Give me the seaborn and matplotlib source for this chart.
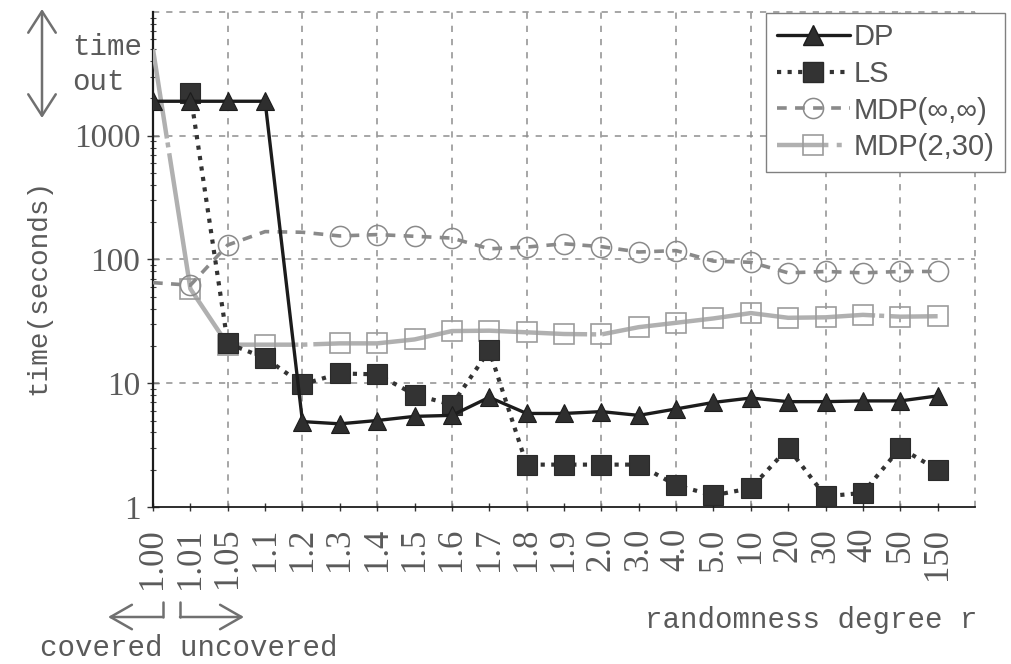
import numpy as np
import matplotlib
matplotlib.use("Agg")
import matplotlib.pyplot as plt
from matplotlib.lines import Line2D
from matplotlib.font_manager import FontProperties
import seaborn as sns

# randomness degree r (categorical x axis)
r_labels = ["1.00", "1.01", "1.05", "1.1", "1.2", "1.3", "1.4", "1.5", "1.6", "1.7",
            "1.8", "1.9", "2.0", "3.0", "4.0", "5.0", "10", "20", "30", "40", "50", "150"]

# running time in seconds (values near 2000+ are time-outs)
dp_time = [1900, 1900, 1900, 1900, 4.9, 4.7, 5.0, 5.4, 5.5, 7.7, 5.7,
           5.7, 5.9, 5.5, 6.2, 7.0, 7.6, 7.1, 7.1, 7.2, 7.2, 7.9]
ls_time = [np.nan, 2200, 21, 16, 9.8, 12, 11.8, 8.1, 6.7, 18.5, 2.2,
           2.2, 2.2, 2.2, 1.5, 1.24, 1.42, 3.0, 1.22, 1.3, 3.0, 2.0]
mdp_inf_time = [65, 62, 131, 168, 166, 155, 159, 154, 149, 122, 126,
                134, 127, 115, 118, 97, 95, 78, 80, 78, 80, 80]
mdp_2_30_time = [5000, 58, 20.5, 20.5, 20.5, 21, 21, 22.6, 26.4, 26.6, 25.8,
                 25, 24.8, 28.4, 30.8, 33.4, 36.9, 33.8, 34.1, 35.7, 34.5, 34.8]

series_names = ["DP", "LS", "MDP(\u221e,\u221e)", "MDP(2,30)"]
y_ticks = [1, 10, 100, 1000]
y_ticklabels = ["1", "10", "100", "1000"]

sns.set_style("white")
plt.rcParams["lines.scale_dashes"] = False

W, H = 1012, 664
TEXT = "#5a5a5a"
GRID = "#8e8e8e"
MONO = "Liberation Mono"
SERIF = "Liberation Serif"

fig = plt.figure(figsize=(W / 100, H / 100), dpi=100)
ax = fig.add_axes([153 / W, 1 - 507 / H, (975 - 153) / W, (507 - 12) / H])

x = np.arange(len(r_labels))

# dashed grid: every second category and each decade
for gx in range(2, 23, 2):
    ax.axvline(gx, color=GRID, lw=1.1, ls=(0, (4.5, 5)), zorder=1, clip_on=False)
for gy in [10, 100, 1000, 10000]:
    ax.axhline(gy, color=GRID, lw=1.1, ls=(0, (4.5, 5)), zorder=1, clip_on=False)

# MDP(2,30): light grey long-dash-dot line with open squares
sns.lineplot(x=x, y=mdp_2_30_time, ax=ax, color="#b0b0b0", linewidth=3.2,
             linestyle=(133, (198, 2.9, 3.6, 4.3)), marker="s", markersize=15,
             markerfacecolor="none", markeredgecolor="#9c9c9c", markeredgewidth=1.2,
             markevery=[1, 2, 3] + list(range(5, 22)), zorder=3, legend=False)

# MDP(inf,inf): grey dashed line with open circles
sns.lineplot(x=x, y=mdp_inf_time, ax=ax, color="#8a8a8a", linewidth=2.6,
             linestyle=(0, (7, 6)), marker="o", markersize=14.5,
             markerfacecolor="none", markeredgecolor="#8a8a8a", markeredgewidth=1.1,
             markevery=[1, 2] + list(range(5, 22)), zorder=4, legend=False)

# LS: dark dotted line with filled squares
sns.lineplot(x=x, y=ls_time, ax=ax, color="#333333", linewidth=3.0,
             linestyle=(0, (3.0, 4.6)), marker="s", markersize=14,
             markerfacecolor="#333333", markeredgecolor="#2a2a2a", markeredgewidth=0.8,
             zorder=5, legend=False)

# DP: black solid line with filled triangles
sns.lineplot(x=x, y=dp_time, ax=ax, color="#1c1c1c", linewidth=2.4,
             linestyle="-", marker="^", markersize=13,
             markerfacecolor="#2e2e2e", markeredgecolor="#1c1c1c", markeredgewidth=0.8,
             zorder=6, legend=False)

ax.set_yscale("log")
ax.set_xlim(0, 22)
ax.set_ylim(1, 10000)
ax.set_xlabel("")
ax.set_ylabel("")

ax.set_xticks(x)
ax.set_xticklabels(r_labels, rotation=90, fontfamily=SERIF, fontsize=25, color=TEXT)
ax.set_yticks(y_ticks)
ax.set_yticklabels(y_ticklabels, fontfamily=SERIF, fontsize=24, color=TEXT)
ax.yaxis.set_minor_locator(matplotlib.ticker.LogLocator(base=10, subs=np.arange(2, 10)))
ax.yaxis.set_minor_formatter(matplotlib.ticker.NullFormatter())
ax.tick_params(axis="x", which="major", direction="inout", length=6, width=1.0,
               color="#333333", pad=12, bottom=True)
ax.tick_params(axis="y", which="major", direction="inout", length=8, width=1.0,
               color="#333333", pad=5, left=True)
ax.tick_params(axis="y", which="minor", direction="inout", length=4, width=0.8,
               color="#444444", left=True)

for side in ["top", "right"]:
    ax.spines[side].set_visible(False)
ax.spines["left"].set_color("#1c1c1c")
ax.spines["left"].set_linewidth(1.6)
ax.spines["bottom"].set_color("#1c1c1c")
ax.spines["bottom"].set_linewidth(1.3)


def fp(px, py):
    """figure fraction from pixel position measured from the top-left corner"""
    return (px / W, 1 - py / H)


# axis titles
fig.text(*fp(38, 287), "time(seconds)", rotation=90, ha="center", va="center",
         family=MONO, fontsize=20, color=TEXT)
fig.text(*fp(978, 620), "randomness degree r", ha="right", va="center",
         family=MONO, fontsize=21, color=TEXT)
fig.text(*fp(40, 648), "covered uncovered", ha="left", va="center",
         family=MONO, fontsize=21, color=TEXT)

# time-out band marker
fig.text(*fp(72, 55), "time", ha="left", va="baseline", family=MONO, fontsize=21, color=TEXT)
fig.text(*fp(72, 90), "out", ha="left", va="baseline", family=MONO, fontsize=21, color=TEXT)
ax.annotate("", xy=fp(42, 9), xytext=fp(42, 118), xycoords="figure fraction",
            textcoords="figure fraction",
            arrowprops=dict(arrowstyle="<->,head_length=0.7,head_width=0.45",
                            color="#707070", lw=1.8, mutation_scale=22,
                            shrinkA=0, shrinkB=0))

# covered / uncovered brackets under the first tick labels
arrow_kw = dict(arrowstyle="->,head_length=0.7,head_width=0.4", color="#707070",
                lw=1.8, mutation_scale=22, shrinkA=0, shrinkB=0)
fig.add_artist(Line2D([163 / W, 163 / W], [1 - 602 / H, 1 - 617 / H],
                      transform=fig.transFigure, color="#707070", lw=1.8))
ax.annotate("", xy=fp(108, 617), xytext=fp(163, 617), xycoords="figure fraction",
            textcoords="figure fraction", arrowprops=arrow_kw)
fig.add_artist(Line2D([180 / W, 180 / W], [1 - 602 / H, 1 - 617 / H],
                      transform=fig.transFigure, color="#707070", lw=1.8))
ax.annotate("", xy=fp(244, 617), xytext=fp(180, 617), xycoords="figure fraction",
            textcoords="figure fraction", arrowprops=arrow_kw)

# legend
handles = [
    Line2D([], [], color="#1c1c1c", lw=2.4, ls="-", marker="^", markersize=15,
           markerfacecolor="#2e2e2e", markeredgecolor="#1c1c1c"),
    Line2D([], [], color="#333333", lw=3.0, ls=(0, (3.0, 4.6)), marker="s", markersize=14,
           markerfacecolor="#333333", markeredgecolor="#2a2a2a"),
    Line2D([], [], color="#8a8a8a", lw=2.6, ls=(0, (7, 6)), marker="o", markersize=14.5,
           markerfacecolor="none", markeredgecolor="#8a8a8a", markeredgewidth=1.1),
    Line2D([], [], color="#b0b0b0", lw=3.2, ls=(0, (37, 6, 3.6, 6)), marker="s",
           markersize=15, markerfacecolor="none", markeredgecolor="#9c9c9c",
           markeredgewidth=1.2),
]
leg = ax.legend(handles, series_names, loc="upper right",
                bbox_to_anchor=fp(1005, 13), bbox_transform=fig.transFigure,
                prop=FontProperties(family="Liberation Sans", size=21),
                handlelength=2.5, handletextpad=0.15, labelspacing=0.3,
                borderpad=0.35, borderaxespad=0, frameon=True, fancybox=False,
                framealpha=1, edgecolor="#808080")
leg.get_frame().set_linewidth(1.0)
leg.set_zorder(10)
for t in leg.get_texts():
    t.set_color("#555555")

fig.savefig("out.png", dpi=100)
